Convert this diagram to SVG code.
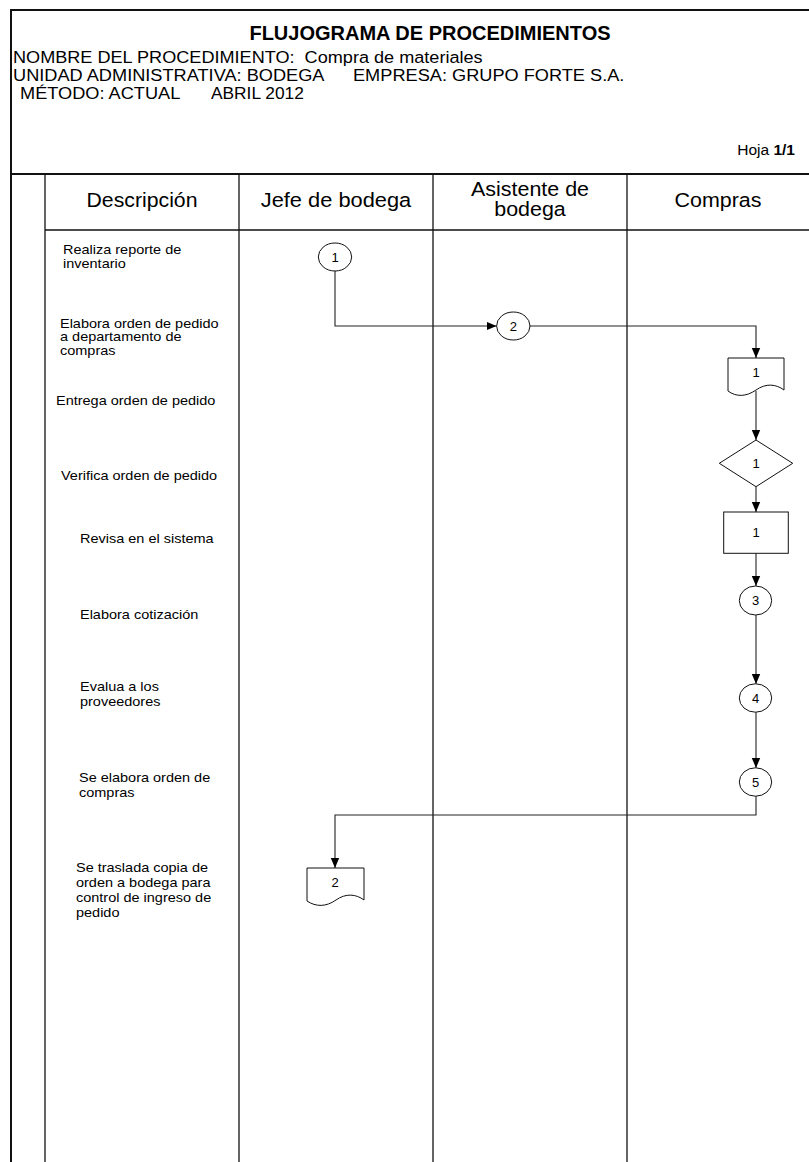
<svg xmlns="http://www.w3.org/2000/svg" width="809" height="1162" viewBox="0 0 809 1162">
  <style>
    .grid { stroke: #111; stroke-width: 1.3; fill: none; }
    .frame { stroke: #111; stroke-width: 2; fill: none; }
    .shape { stroke: #111; stroke-width: 1; fill: #fff; }
    .conn { stroke: #222; stroke-width: 1.1; fill: none; }
    .title { font-family: "Liberation Sans", Arial, sans-serif; font-size: 20px; font-weight: bold; fill: #000; }
    .info { font-family: "Liberation Sans", Arial, sans-serif; font-size: 17px; fill: #000; }
    .col { font-family: "Liberation Sans", Arial, sans-serif; font-size: 19.5px; fill: #000; text-anchor: middle; }
    .desc { font-family: "Liberation Sans", Arial, sans-serif; font-size: 12.5px; fill: #000; }
    .lbl { font-family: "Liberation Sans", Arial, sans-serif; font-size: 13px; fill: #000; text-anchor: middle; }
  </style>
  <defs>
    <marker id="arrow" markerUnits="userSpaceOnUse" markerWidth="10" markerHeight="10" viewBox="0 0 10 10" refX="10" refY="5" orient="auto">
      <path d="M0,0.8 L10,5 L0,9.2 Z" fill="#000"/>
    </marker>
  </defs>
  <rect width="809" height="1162" fill="#fff"/>

  <!-- sheet frame and swimlane grid -->
  <g id="grid">
    <line class="frame" x1="11" y1="10" x2="11" y2="1162"/>
    <line class="frame" x1="10" y1="10" x2="809" y2="10"/>
    <line class="frame" x1="10" y1="174" x2="809" y2="174"/>
    <line class="grid" x1="45" y1="230" x2="809" y2="230"/>
    <line class="grid" x1="45" y1="174" x2="45" y2="1162"/>
    <line class="grid" x1="239" y1="174" x2="239" y2="1162"/>
    <line class="grid" x1="433" y1="174" x2="433" y2="1162"/>
    <line class="grid" x1="627" y1="174" x2="627" y2="1162"/>
  </g>

  <!-- sheet header -->
  <g id="header">
    <text class="title" x="430" y="40" text-anchor="middle">FLUJOGRAMA DE PROCEDIMIENTOS</text>
    <text class="info" transform="translate(13 63) scale(1.066 1)" xml:space="preserve">NOMBRE DEL PROCEDIMIENTO:  Compra de materiales</text>
    <text class="info" transform="translate(13 81) scale(1.07 1)">UNIDAD ADMINISTRATIVA: BODEGA</text>
    <text class="info" transform="translate(353 81) scale(1.07 1)">EMPRESA: GRUPO FORTE S.A.</text>
    <text class="info" transform="translate(20 99) scale(1.07 1)">MÉTODO: ACTUAL</text>
    <text class="info" transform="translate(211 99) scale(1.02 1)">ABRIL 2012</text>
    <text class="info" x="795" y="155" text-anchor="end" style="font-size:15.5px">Hoja <tspan font-weight="bold">1/1</tspan></text>
  </g>

  <!-- column headings -->
  <g id="columns">
    <text class="col" transform="translate(142 207) scale(1.09 1)">Descripción</text>
    <text class="col" transform="translate(336 207) scale(1.12 1)">Jefe de bodega</text>
    <text class="col" transform="translate(530 196) scale(1.1 1)">Asistente de</text>
    <text class="col" transform="translate(530 216) scale(1.1 1)">bodega</text>
    <text class="col" transform="translate(718 207) scale(1.1 1)">Compras</text>
  </g>

  <!-- step descriptions -->
  <g id="descriptions">
    <text class="desc" transform="translate(63 254) scale(1.16 1)">Realiza reporte de</text>
    <text class="desc" transform="translate(63 268) scale(1.16 1)">inventario</text>
    <text class="desc" transform="translate(60 328) scale(1.16 1)">Elabora orden de pedido</text>
    <text class="desc" transform="translate(60 341) scale(1.16 1)">a departamento de</text>
    <text class="desc" transform="translate(60 355) scale(1.16 1)">compras</text>
    <text class="desc" transform="translate(56 405) scale(1.16 1)">Entrega orden de pedido</text>
    <text class="desc" transform="translate(61 480) scale(1.16 1)">Verifica orden de pedido</text>
    <text class="desc" transform="translate(80 543) scale(1.16 1)">Revisa en el sistema</text>
    <text class="desc" transform="translate(80 619) scale(1.16 1)">Elabora cotización</text>
    <text class="desc" transform="translate(80 691) scale(1.16 1)">Evalua a los</text>
    <text class="desc" transform="translate(80 706) scale(1.16 1)">proveedores</text>
    <text class="desc" transform="translate(79 782) scale(1.16 1)">Se elabora orden de</text>
    <text class="desc" transform="translate(79 797) scale(1.16 1)">compras</text>
    <text class="desc" transform="translate(76 872) scale(1.16 1)">Se traslada copia de</text>
    <text class="desc" transform="translate(76 887) scale(1.16 1)">orden a bodega para</text>
    <text class="desc" transform="translate(76 902) scale(1.16 1)">control de ingreso de</text>
    <text class="desc" transform="translate(76 917) scale(1.16 1)">pedido</text>
  </g>

  <!-- connectors -->
  <g id="connectors">
    <path class="conn" d="M335,271 V326 H496.5" marker-end="url(#arrow)"/>
    <path class="conn" d="M530,326 H756 V358" marker-end="url(#arrow)"/>
    <path class="conn" d="M756,391 V440" marker-end="url(#arrow)"/>
    <path class="conn" d="M756,487 V512" marker-end="url(#arrow)"/>
    <path class="conn" d="M756,553 V586" marker-end="url(#arrow)"/>
    <path class="conn" d="M756,615 V684" marker-end="url(#arrow)"/>
    <path class="conn" d="M756,712 V768" marker-end="url(#arrow)"/>
    <path class="conn" d="M756,796 V815 H335 V868" marker-end="url(#arrow)"/>
  </g>

  <!-- flow symbols -->
  <g id="op1">
    <ellipse class="shape" cx="335" cy="257" rx="16.7" ry="14"/>
    <text class="lbl" x="335" y="262">1</text>
  </g>
  <g id="op2">
    <ellipse class="shape" cx="513.3" cy="326" rx="16.7" ry="14"/>
    <text class="lbl" x="513.3" y="331">2</text>
  </g>
  <g id="doc1">
    <path class="shape" d="M728,358 H784 V390 C776,384 766,383 756,390 C746,397 736,397 728,391 Z"/>
    <text class="lbl" x="756" y="377">1</text>
  </g>
  <g id="check1">
    <path class="shape" d="M756,440 L792.7,463.3 L756,486.7 L719.3,463.3 Z"/>
    <text class="lbl" x="756" y="468">1</text>
  </g>
  <g id="review1">
    <rect class="shape" x="723.7" y="512" width="64.6" height="41.3"/>
    <text class="lbl" x="756" y="537">1</text>
  </g>
  <g id="op3">
    <ellipse class="shape" cx="755.5" cy="600.5" rx="16.2" ry="14.5"/>
    <text class="lbl" x="755.5" y="605">3</text>
  </g>
  <g id="op4">
    <ellipse class="shape" cx="755.5" cy="698" rx="16.2" ry="14.2"/>
    <text class="lbl" x="755.5" y="702.5">4</text>
  </g>
  <g id="op5">
    <ellipse class="shape" cx="755.5" cy="782" rx="16.2" ry="14.2"/>
    <text class="lbl" x="755.5" y="786.5">5</text>
  </g>
  <g id="doc2">
    <path class="shape" d="M307,868 H364 V900 C356,894 346,893 336,900 C326,907 316,907 307,901 Z"/>
    <text class="lbl" x="335" y="887">2</text>
  </g>
</svg>
